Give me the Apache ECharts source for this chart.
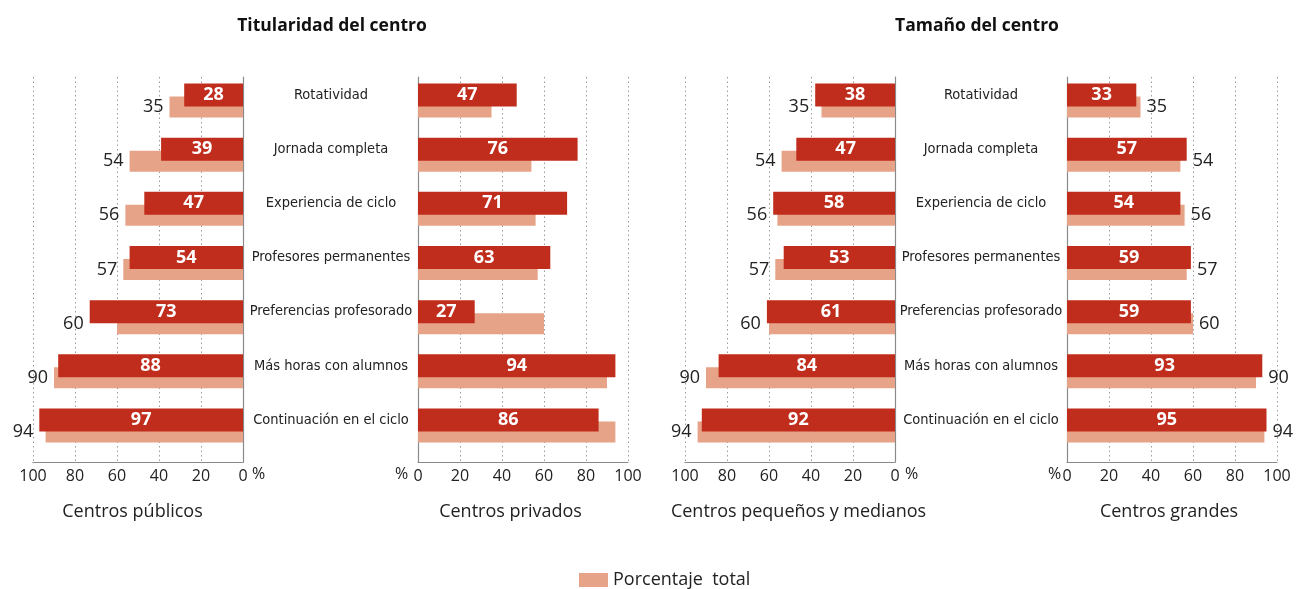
<!DOCTYPE html>
<html><head><meta charset="utf-8">
<script src="https://cdn.jsdelivr.net/npm/echarts@6/dist/echarts.min.js"></script>
<style>html,body{margin:0;padding:0;background:#fff}#c{width:1298px;height:589px}</style>
</head><body><div id="c"></div>
<script>
const categories = ['Rotatividad','Jornada completa','Experiencia de ciclo','Profesores permanentes','Preferencias profesorado','Más horas con alumnos','Continuación en el ciclo'];
const totals   = [35, 54, 56, 57, 60, 90, 94];
const publicos = [28, 39, 47, 54, 73, 88, 97];
const privados = [47, 76, 71, 63, 27, 94, 86];
const pequenos = [38, 47, 58, 53, 61, 84, 92];
const grandes  = [33, 57, 54, 59, 59, 93, 95];
const panelNames = ['Centros públicos', 'Centros privados', 'Centros pequeños y medianos', 'Centros grandes'];
const groupTitles = ['Titularidad del centro', 'Tamaño del centro'];
const legendLabel = 'Porcentaje  total';
const percentSign = '%';

const DARK = '#C02D1C', LIGHT = '#E6A387', TXT = '#222';
const CAT_FONT = '"DejaVu Sans Condensed",sans-serif';
const FONT = '"Open Sans","Noto Sans",sans-serif';

const panels = [
  {left: 33,   inverse: true,  values: publicos, showTotals: true,  cats: true,  catMargin: 88, namePad: [0, 11, 0, 0], pct: 258},
  {left: 418,  inverse: false, values: privados, showTotals: false, cats: false, catMargin: 0,  namePad: [0, 25, 0, 0], pct: 401},
  {left: 685,  inverse: true,  values: pequenos, showTotals: true,  cats: true,  catMargin: 86, namePad: [0, 0, 0, 17], pct: 911},
  {left: 1067, inverse: false, values: grandes,  showTotals: true,  cats: false, catMargin: 0,  namePad: [0, 6, 0, 0],  pct: 1054}
];
const PW = 210;
const grids = [], xAxes = [], yAxes = [], series = [], graphics = [];

panels.forEach((p, i) => {
  const g0 = i * 3;
  grids.push({left: p.left, width: PW, top: 77, height: 385});
  grids.push({left: p.left, width: PW, top: 68, height: 379});
  grids.push({left: p.left, width: PW, top: 80, height: 379});

  xAxes.push({
    gridIndex: g0, type: 'value', min: 0, max: 100, interval: 20, inverse: p.inverse,
    axisLine: {show: true, lineStyle: {color: '#8a8a8a', width: 1.2}},
    axisTick: {show: false},
    axisLabel: {fontSize: 16, color: TXT, fontFamily: FONT, margin: 6},
    splitLine: {show: true, lineStyle: {type: [1.5, 3], color: '#9a9a9a', width: 1}},
    name: panelNames[i], nameLocation: 'middle', nameGap: 41,
    nameTextStyle: {fontSize: 18, color: TXT, fontFamily: FONT, padding: p.namePad}
  });
  yAxes.push({
    gridIndex: g0, type: 'value', min: 0, max: 1, position: p.inverse ? 'right' : 'left',
    axisLine: {show: true, onZero: false, lineStyle: {color: '#8a8a8a', width: 1.2}},
    axisTick: {show: false}, axisLabel: {show: false}, splitLine: {show: false}
  });
  [1, 2].forEach(k => {
    xAxes.push({gridIndex: g0 + k, type: 'value', min: 0, max: 100, inverse: p.inverse, show: false});
  });
  yAxes.push({
    gridIndex: g0 + 1, type: 'category', data: categories, inverse: true,
    position: p.inverse ? 'right' : 'left',
    show: p.cats,
    axisLine: {show: false}, axisTick: {show: false}, splitLine: {show: false},
    axisLabel: {show: p.cats, margin: p.catMargin, align: 'center', fontSize: 14.5, color: TXT, fontFamily: CAT_FONT}
  });
  yAxes.push({gridIndex: g0 + 2, type: 'category', data: categories, inverse: true, show: false});

  series.push({
    name: legendLabel, type: 'bar', xAxisIndex: g0 + 2, yAxisIndex: g0 + 2,
    data: totals, barWidth: 21, barGap: '-100%', z: 2,
    itemStyle: {color: LIGHT}, silent: true
  });
  if (p.showTotals) {
    series.push({
      name: 'etiqueta', type: 'bar', xAxisIndex: g0 + 2, yAxisIndex: g0 + 2,
      data: totals.map((t, j) => ({value: Math.max(t, p.values[j]), label: {formatter: String(t)}})),
      barWidth: 21, barGap: '-100%', z: 1, silent: true,
      itemStyle: {color: 'rgba(0,0,0,0)'},
      label: {show: true, position: p.inverse ? 'left' : 'right', distance: 6, fontSize: 18, color: TXT, fontFamily: FONT}
    });
  }
  series.push({
    name: panelNames[i], type: 'bar', xAxisIndex: g0 + 1, yAxisIndex: g0 + 1,
    data: p.values, barWidth: 23, z: 3, silent: true,
    itemStyle: {color: DARK},
    label: {show: true, position: 'inside', color: '#fff', fontWeight: 'bold', fontSize: 18, fontFamily: FONT}
  });
  graphics.push({type: 'text', left: p.pct - 6, top: 466, silent: true,
    style: {text: percentSign, fontSize: 16, fill: TXT, fontFamily: FONT}});
});

const chart = echarts.init(document.getElementById('c'));
chart.setOption({
  animation: false,
  backgroundColor: '#fff',
  title: [
    {text: groupTitles[0], left: 327, top: 12, textAlign: 'center', textStyle: {fontSize: 17.5, fontWeight: 'bold', color: '#111', fontFamily: FONT}},
    {text: groupTitles[1], left: 972, top: 12, textAlign: 'center', textStyle: {fontSize: 17.5, fontWeight: 'bold', color: '#111', fontFamily: FONT}}
  ],
  legend: {
    data: [{name: legendLabel, icon: 'rect'}], left: 574, top: 566, selectedMode: false,
    itemWidth: 29, itemHeight: 14, itemGap: 6,
    textStyle: {fontSize: 18, color: TXT, fontFamily: FONT}
  },
  grid: grids, xAxis: xAxes, yAxis: yAxes, series: series, graphic: graphics
});
</script></body></html>
